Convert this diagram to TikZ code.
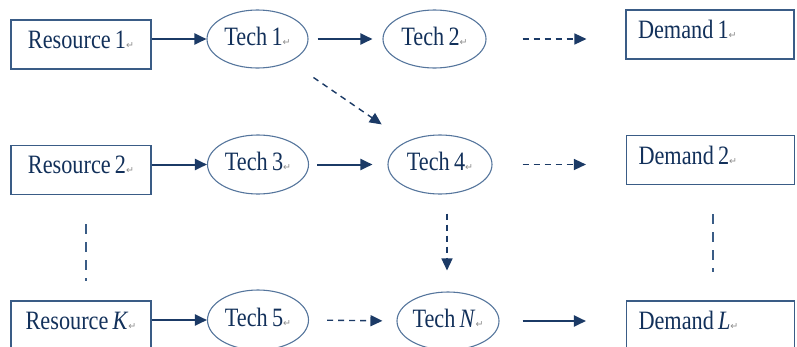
\documentclass[tikz,border=0pt]{standalone}
\usepackage{fontspec}
\setmainfont{Liberation Serif}[FakeStretch=0.84,WordSpace=0.75]
\newfontfamily\pmfont{DejaVu Sans}
\usetikzlibrary{arrows.meta,shapes.geometric}
\definecolor{navytext}{HTML}{12305A}
\definecolor{boxline}{HTML}{3A5C86}
\definecolor{ellline}{HTML}{55759C}
\definecolor{arrowcol}{HTML}{1B3A66}
\newcommand{\pmk}{{\pmfont\fontsize{9.5}{9.5}\selectfont\textcolor{black!45}{↵}}}
\newcommand{\demtext}[1]{\makebox[144pt][l]{#1}}
\begin{document}
\begin{tikzpicture}[x=1pt,y=-1pt,
  every node/.style={font=\fontsize{26.5}{30}\selectfont, text=navytext},
  resbox/.style={draw=boxline, line width=1.1pt, rectangle, minimum width=140pt, minimum height=49pt, inner sep=0pt, text depth=10pt},
  dembox/.style={draw=boxline, line width=1.1pt, rectangle, minimum width=168pt, minimum height=49pt, inner xsep=12pt, inner ysep=0pt, text depth=10pt},
  techell/.style={draw=ellline, line width=1.1pt, ellipse, minimum width=101pt, minimum height=58pt, inner sep=0pt, text depth=6pt},
  solidarrow/.style={draw=arrowcol, line width=2pt, -{Triangle[length=12pt,width=11pt]}},
  dasharrow/.style={draw=arrowcol, line width=1.4pt, dash pattern=on 6pt off 5pt, -{Triangle[length=12pt,width=11pt]}},
  vdash/.style={draw=boxline, line width=1.4pt, dash pattern=on 10pt off 8pt}
]
\useasboundingbox (0,0) rectangle (797,346);
\clip (0,0) rectangle (797,346);
% resources
\node[resbox] (r1) at (81,44.5) {Resource 1\pmk};
\node[resbox] (r2) at (81,170) {Resource 2\pmk};
\node[resbox] (rK) at (81,325.5) {Resource \textit{K}\pmk};
% techs
\node[techell] (t1) at (257.5,39) {Tech 1\pmk};
\node[techell, minimum width=103pt] (t2) at (434.5,39) {Tech 2\pmk};
\node[techell, minimum height=59pt] (t3) at (258,164.5) {Tech 3\pmk};
\node[techell, minimum width=104pt, minimum height=59pt] (t4) at (440,164.5) {Tech 4\pmk};
\node[techell, minimum height=60pt] (t5) at (258,320) {Tech 5\pmk};
\node[techell, minimum width=102pt] (tN) at (448,321) {Tech \textit{N}\pmk};
% demands
\node[dembox] (d1) at (710,34.5) {\demtext{Demand 1\pmk}};
\node[dembox, minimum width=167pt] (d2) at (710.5,160) {\demtext{Demand 2\pmk}};
\node[dembox, minimum width=167pt] (dL) at (710.5,325.5) {\demtext{Demand \textit{L}\pmk}};
% row 1
\draw[solidarrow] (r1.east |- t1.west) -- (t1.west);
\draw[solidarrow, shorten <=9pt, shorten >=10pt] (t1.east) -- (t2.west);
\draw[dasharrow, shorten <=36pt, shorten >=39pt] (t2.east) -- (d1.west |- t2.east);
\draw[dasharrow, shorten <=28pt, shorten >=30pt] (t1) -- (t4);
% row 2
\draw[solidarrow] (r2.east |- t3.west) -- (t3.west);
\draw[solidarrow, shorten <=8pt, shorten >=15pt] (t3.east) -- (t4.west);
\draw[dasharrow, shorten <=30pt, shorten >=40pt] (t4.east) -- (d2.west |- t4.east);
\draw[dasharrow, shorten <=19pt, shorten >=21pt] ([xshift=-1pt]tN.north |- t4.south) -- ([xshift=-1pt]tN.north);
% row 3
\draw[solidarrow] (rK.east |- t5.west) -- (t5.west);
\draw[dasharrow, shorten <=18pt, shorten >=14pt] (t5.east) -- (tN.west);
\draw[solidarrow, shorten <=23pt, shorten >=40pt] (tN.east) -- (dL.west |- tN.east);
% vertical ellipsis lines
\draw[vdash, shorten <=29pt, shorten >=19pt] ([xshift=5pt]r2.south) -- ([xshift=5pt]rK.north);
\draw[vdash, shorten <=29pt, shorten >=28pt] ([xshift=2.5pt]d2.south) -- ([xshift=2.5pt]dL.north);
\end{tikzpicture}
\end{document}
